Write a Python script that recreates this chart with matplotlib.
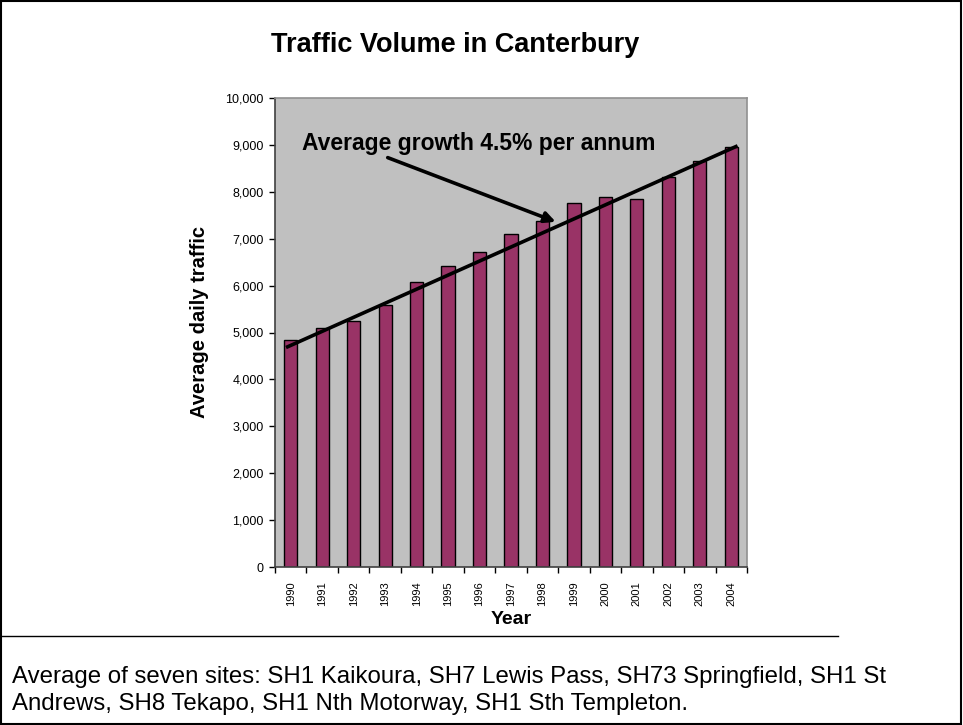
import numpy as np
import matplotlib
matplotlib.use("Agg")
import matplotlib.pyplot as plt
from matplotlib.lines import Line2D
from matplotlib.patches import Rectangle
from matplotlib.ticker import FuncFormatter

plt.rcParams['font.family'] = ['Liberation Sans', 'DejaVu Sans']

# data
years = [str(y) for y in range(1990, 2005)]
traffic = [4850, 5090, 5250, 5580, 6070, 6420, 6720, 7110, 7370,
           7770, 7880, 7840, 8310, 8660, 8960]

# straight trend line, drawn in category units
trend_x = [-0.15, 14.2]
trend_y = [4680, 8980]

growth_label = "Average growth 4.5% per annum"
caption_1 = "Average of seven sites: SH1 Kaikoura, SH7 Lewis Pass, SH73 Springfield, SH1 St"
caption_2 = "Andrews, SH8 Tekapo, SH1 Nth Motorway, SH1 Sth Templeton."

W, H = 963, 725
fig = plt.figure(figsize=(W / 100, H / 100), dpi=100)
fig.patch.set_facecolor('white')

ax = fig.add_axes([275 / W, 1 - 567 / H, (747 - 275) / W, (567 - 98) / H])
ax.set_facecolor('#C0C0C0')

x = np.arange(len(years))
ax.bar(x, traffic, width=0.42, color='#993366', edgecolor='black', linewidth=1.0, zorder=2)
ax.plot(trend_x, trend_y, color='black', lw=2.6, zorder=3, solid_capstyle='butt')

ax.annotate('', xy=(8.5, 7340), xytext=(3.0, 8750),
            arrowprops=dict(arrowstyle='-|>', lw=2.6, color='black', mutation_scale=16),
            zorder=4)
ax.text(0.36, 9040, growth_label, fontsize=16.5, fontweight='bold', va='center', ha='left', zorder=4)

ax.set_xlim(-0.5, len(years) - 0.5)
ax.set_ylim(0, 10000)
ax.set_yticks(np.arange(0, 10001, 1000))
ax.yaxis.set_major_formatter(FuncFormatter(lambda v, p: f"{int(v):,}"))
ax.tick_params(axis='y', direction='out', length=4, width=1, pad=4, labelsize=9, colors='black')

ax.set_xticks(x)
ax.set_xticklabels(years, rotation=90, fontsize=8)
ax.set_xticks(np.arange(-0.5, len(years), 1), minor=True)
ax.tick_params(axis='x', which='major', length=0, pad=10)
ax.tick_params(axis='x', which='minor', direction='out', length=4, width=1)

for s in ['left', 'bottom']:
    ax.spines[s].set_color('#404040')
    ax.spines[s].set_linewidth(1.2)
for s in ['top', 'right']:
    ax.spines[s].set_color('#909090')
    ax.spines[s].set_linewidth(1.2)

ax.set_ylabel("Average daily traffic", fontsize=14.5, fontweight='bold')
ax.yaxis.set_label_coords(-0.140, 0.522)
ax.set_xlabel("Year", fontsize=14, fontweight='bold', labelpad=4)

fig.text(455 / W, 1 - 52 / H, "Traffic Volume in Canterbury", fontsize=19.5,
         fontweight='bold', ha='center', va='baseline')

fig.text(12 / W, 1 - 683 / H, caption_1, fontsize=17.3, ha='left', va='baseline')
fig.text(12 / W, 1 - 710 / H, caption_2, fontsize=17.3, ha='left', va='baseline')

# outer frame and chart box bottom line
fig.add_artist(Rectangle((0.001, 0.002), 0.997, 0.996, transform=fig.transFigure,
                         fill=False, edgecolor='black', lw=1.5))
fig.add_artist(Line2D([0, 838 / W], [1 - 636 / H, 1 - 636 / H], transform=fig.transFigure,
                      color='black', lw=1.0))

fig.savefig("out.png", dpi=100)
